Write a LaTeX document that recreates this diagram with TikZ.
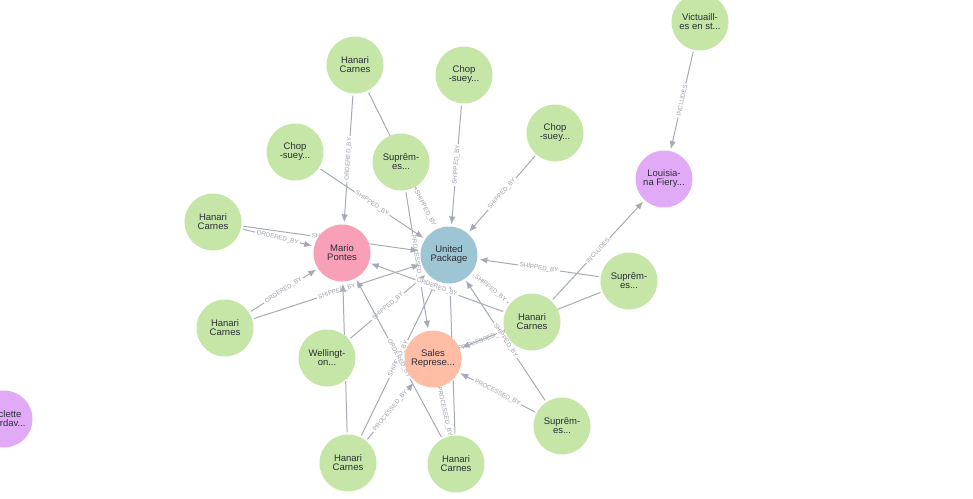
\documentclass[tikz,border=0pt]{standalone}
\usepackage{fontspec}
\setmainfont{Liberation Sans}
\usepackage{xcolor}
\usepackage{tikz}
\usetikzlibrary{arrows.meta}
\definecolor{edgegray}{HTML}{A5ABB6}
\definecolor{labelgray}{HTML}{9A9FA8}
\definecolor{textdark}{HTML}{2B2E36}
\definecolor{ordergreen}{HTML}{C5E6A6}
\definecolor{customerpink}{HTML}{F8A0B8}
\definecolor{shipperblue}{HTML}{9DC5D4}
\definecolor{employeesalmon}{HTML}{FFBDA6}
\definecolor{productpurple}{HTML}{E1AAF7}
\pgfdeclarelayer{edges}
\pgfsetlayers{edges,main}

\begin{document}
\begin{tikzpicture}[
    x=1pt, y=-1pt,
    font=\fontsize{9.5}{9}\selectfont,
    entity/.style={circle, inner sep=0pt, minimum size=57pt, align=center, text=textdark},
    order/.style={entity, fill=ordergreen},
    customer/.style={entity, fill=customerpink},
    shipper/.style={entity, fill=shipperblue},
    employee/.style={entity, fill=employeesalmon},
    product/.style={entity, fill=productpurple},
    rel/.style={-{Latex[length=8pt, width=6.5pt]}, line width=1pt, draw=edgegray,
                shorten >=2pt, shorten <=2pt},
    rellabel/.style={midway, sloped, font=\fontsize{6.2}{7}\selectfont, text=labelgray,
                     fill=white, inner xsep=1.5pt, inner ysep=0.5pt}
  ]
    \useasboundingbox (0,0) rectangle (973,498);

    \node[shipper]  (united) at (449,255) {United\\Package};
    \node[customer] (mario)  at (342,253) {Mario\\Pontes};
    \node[employee] (sales)  at (433,359) {Sales\\Represe...};

    \node[product] (louis)    at (664,179) {Louisia-\\na Fiery...};
    \node[product] (raclette) at (4,419)   {Raclette\\Courdav...};
    \node[order]   (vict)     at (700,22)  {Victuaill-\\es en st...};

    \node[order] (hanariA) at (355,65)  {Hanari\\Carnes};
    \node[order] (hanariB) at (213,222) {Hanari\\Carnes};
    \node[order] (hanariC) at (225,328) {Hanari\\Carnes};
    \node[order] (hanariD) at (532,322) {Hanari\\Carnes};
    \node[order] (hanariE) at (348,463) {Hanari\\Carnes};
    \node[order] (hanariF) at (456,464) {Hanari\\Carnes};
    \node[order] (chopA)   at (464,75)  {Chop\\-suey...};
    \node[order] (chopB)   at (555,133) {Chop\\-suey...};
    \node[order] (chopC)   at (295,152) {Chop\\-suey...};
    \node[order] (supremA) at (401,162) {Suprêm-\\es...};
    \node[order] (supremB) at (629,281) {Suprêm-\\es...};
    \node[order] (supremC) at (562,426) {Suprêm-\\es...};
    \node[order] (well)    at (327,358) {Wellingt-\\on...};

    \begin{pgfonlayer}{edges}
    \draw[rel] (vict) -- (louis) node[rellabel] {INCLUDES};
    \draw[rel] (hanariD) -- (louis) node[rellabel] {INCLUDES};

    \draw[rel] (hanariA) -- (mario) node[rellabel] {ORDERED\_BY};
    \draw[rel] (hanariA) -- (united) node[rellabel] {SHIPPED\_BY};
    \draw[rel] (chopA) -- (united) node[rellabel] {SHIPPED\_BY};
    \draw[rel] (chopB) -- (united) node[rellabel] {SHIPPED\_BY};
    \draw[rel] (chopC) -- (united) node[rellabel] {SHIPPED\_BY};
    \draw[rel] (supremA) -- (united) node[rellabel] {SHIPPED\_BY};
    \draw[rel] (supremA) -- (sales) node[rellabel] {PROCESSED\_BY};

    \draw[rel] (hanariB) -- (mario) node[rellabel] {ORDERED\_BY};
    \draw[rel] (hanariB) -- (united) node[rellabel] {SHIPPED\_BY};
    \draw[rel] (hanariC) -- (mario) node[rellabel] {ORDERED\_BY};
    \draw[rel] (hanariC) -- (united) node[rellabel] {SHIPPED\_BY};
    \draw[rel] (well) -- (united) node[rellabel] {SHIPPED\_BY};

    \draw[rel] (hanariE) -- (mario) node[rellabel] {ORDERED\_BY};
    \draw[rel] (hanariE) -- (united) node[rellabel] {SHIPPED\_BY};
    \draw[rel] (hanariE) -- (sales) node[rellabel] {PROCESSED\_BY};
    \draw[rel] (hanariF) -- (mario) node[rellabel] {ORDERED\_BY};
    \draw[rel] (hanariF) -- (united) node[rellabel] {SHIPPED\_BY};
    \draw[rel] (hanariF) -- (sales) node[rellabel] {PROCESSED\_BY};

    \draw[rel] (hanariD) -- (mario) node[rellabel] {ORDERED\_BY};
    \draw[rel] (hanariD) -- (united) node[rellabel] {SHIPPED\_BY};
    \draw[rel] (hanariD) -- (sales) node[rellabel] {PROCESSED\_BY};
    \draw[rel] (supremB) -- (united) node[rellabel] {SHIPPED\_BY};
    \draw[rel] (supremB) -- (sales) node[rellabel] {PROCESSED\_BY};
    \draw[rel] (supremC) -- (united) node[rellabel] {SHIPPED\_BY};
    \draw[rel] (supremC) -- (sales) node[rellabel] {PROCESSED\_BY};
    \end{pgfonlayer}
\end{tikzpicture}
\end{document}
